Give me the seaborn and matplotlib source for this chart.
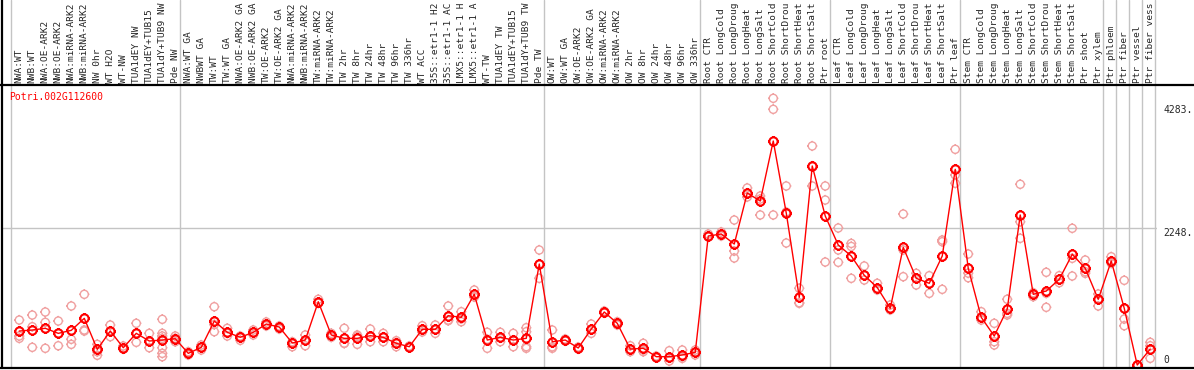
import numpy as np
import pandas as pd
import seaborn as sns
import matplotlib
matplotlib.use("Agg")
from matplotlib import pyplot as plt
from matplotlib.lines import Line2D
from matplotlib.path import Path

gene = "Potri.002G112600"

# sample groups: labels (cut to 14 chars as on the chart), means and replicates
nw_labels = ["NWA:WT", "NWB:WT", "NWA:OE-ARK2", "NWB:OE-ARK2", "NWA:miRNA-ARK2",
             "NWB:miRNA-ARK2", "NW 0hr", "WT H2O", "WT-NW", "TUA1dEY NW",
             "TUA1dEY+TUB15", "TUA1dY+TUB9 NW", "Pde NW"]
nw_means = [559, 576, 604, 521, 571, 768, 258, 559, 285, 521, 395, 411, 433]
nw_reps = [[740, 477, 439], [822, 630, 291], [872, 702, 275], [724, 521, 317],
           [971, 423, 340], [1163, 576, 559], [340, 219, 160], [658, 559, 466],
           [313, 280, 263], [686, 521, 373], [521, 395, 285],
           [752, 521, 477, 439, 285, 192, 137], [477, 439, 383]]

tw_labels = ["NWA:WT GA", "NWBWT GA", "TW:WT", "TW:WT GA", "NWA:OE-ARK2 GA",
             "NWB:OE-ARK2 GA", "TW:OE-ARK2", "TW:OE-ARK2 GA", "NWA:miRNA-ARK2",
             "NWB:miRNA-ARK2", "TW:miRNA-ARK2", "TW:miRNA-ARK2", "TW 2hr", "TW 8hr",
             "TW 24hr", "TW 48hr", "TW 96hr", "TW 336hr", "WT ACC", "35S::etr1-1 H2",
             "35S::etr1-1 AC", "LMX5::etr1-1 H", "LMX5::etr1-1 A", "WT-TW",
             "TUA1dEY TW", "TUA1dEY+TUB15", "TUA1dY+TUB9 TW", "Pde TW"]
tw_means = [192, 291, 724, 538, 456, 538, 674, 625, 362, 411, 1041, 494, 439, 439,
            482, 456, 357, 301, 587, 587, 811, 785, 1163, 411, 456, 411, 439, 1661]
tw_reps = [[219, 192, 165], [329, 291, 247], [959, 665, 548], [604, 521, 477],
           [477, 461, 406], [576, 538, 494], [708, 674, 642], [642, 625, 592],
           [383, 362, 301], [494, 411, 317], [1081, 1031, 1015], [521, 494, 456],
           [604, 357, 357], [494, 472, 340], [592, 472, 383], [521, 461, 383],
           [400, 367, 301], [313, 301, 291], [646, 576, 543], [658, 587, 521],
           [971, 740, 729], [877, 757, 712], [1234, 1124, 1119], [538, 423, 275],
           [538, 444, 383], [521, 411, 301], [614, 548, 301, 275], [1892, 1661, 1426]]

ow_labels = ["OW:WT", "OW:WT GA", "OW:OE-ARK2", "OW:OE-ARK2 GA", "OW:miRNA-ARK2",
             "OW:miRNA-ARK2", "OW 2hr", "OW 8hr", "OW 24hr", "OW 48hr", "OW 96hr",
             "OW 336hr"]
ow_means = [383, 411, 280, 592, 872, 686, 263, 275, 137, 137, 165, 209]
ow_reps = [[576, 298, 275], [428, 411, 395], [296, 280, 263], [674, 584, 521],
           [888, 872, 855], [712, 686, 658], [317, 255, 219], [357, 247, 219],
           [148, 137, 127], [235, 115, 66], [247, 137, 110], [247, 214, 165]]

root_labels = ["Root CTR", "Root LongCold", "Root LongDroug", "Root LongHeat",
               "Root LongSalt", "Root ShortCold", "Root ShortDrou", "Root ShortHeat",
               "Root ShortSalt", "Ptr root"]
root_means = [2122, 2155, 1990, 2829, 2698, 3685, 2500, 1114, 3274, 2451]
root_reps = [[2155, 2122, 2106], [2188, 2155, 2122], [2385, 1875, 1760],
             [2912, 2829, 2764], [2780, 2731, 2468], [4387, 4206, 2468],
             [2945, 2517, 2007], [1262, 1025, 1015], [3603, 3274, 2945],
             [2945, 2714, 1694]]

leaf_labels = ["Leaf CTR", "Leaf LongCold", "Leaf LongDroug", "Leaf LongHeat",
               "Leaf LongSalt", "Leaf ShortCold", "Leaf ShortDrou", "Leaf ShortHeat",
               "Leaf ShortSalt", "Ptr leaf"]
leaf_means = [1974, 1793, 1476, 1275, 933, 1936, 1426, 1344, 1793, 3219]
leaf_reps = [[2254, 1892, 1689], [2000, 1950, 1426], [1629, 1480, 1398],
             [1344, 1250, 1234], [987, 933, 905], [2484, 1892, 1453],
             [1508, 1426, 1316], [1469, 1344, 1179], [2056, 2028, 1245],
             [3548, 3126, 2989]]

stem_labels = ["Stem CTR", "Stem LongCold", "Stem LongDroug", "Stem LongHeat",
               "Stem LongSalt", "Stem ShortCold", "Stem ShortDrou", "Stem ShortHeat",
               "Stem ShortSalt", "Ptr shoot", "Ptr xylem"]
stem_means = [1591, 785, 477, 921, 2468, 1163, 1217, 1410, 1821, 1591, 1081]
stem_reps = [[1826, 1511, 1436], [877, 773, 740], [686, 383, 329], [1081, 850, 823],
             [2973, 2357, 2084], [1189, 1163, 1124], [1525, 1179, 949],
             [1469, 1410, 1354], [2249, 1755, 1464], [1727, 1535, 1508],
             [1168, 1086, 971]]

ptr_labels = ["Ptr phloem", "Ptr fiber", "Ptr vessel", "Ptr fiber vess"]
ptr_means = [1711, 933, 0, 263]
ptr_reps = [[1781, 1711, 1673], [1393, 757, 646], [0, 0, 0], [373, 317, 110]]

groups = [
    (nw_labels, nw_means, nw_reps),
    (tw_labels, tw_means, tw_reps),
    (ow_labels, ow_means, ow_reps),
    (root_labels, root_means, root_reps),
    (leaf_labels, leaf_means, leaf_reps),
    (stem_labels, stem_means, stem_reps),
] + [([l], [m], [r]) for l, m, r in zip(ptr_labels, ptr_means, ptr_reps)]

axis_ticks = [0, 2248, 4283]
axis_ticklabels = ["0", "2248.", "4283."]

# build long tables
labels, mean_rows, rep_rows, group_starts = [], [], [], []
for lab, mn, rp in groups:
    group_starts.append(len(labels))
    for l, m, r in zip(lab, mn, rp):
        pos = len(labels)
        labels.append(l)
        mean_rows.append(dict(pos=pos, value=m))
        for v in r:
            rep_rows.append(dict(pos=pos, value=v))
means_df = pd.DataFrame(mean_rows)
reps_df = pd.DataFrame(rep_rows)
n = len(labels)

# ring marker with four small ticks, like the pixel circles of the chart
k = 1.28
ticks = Path([[0, 1], [0, k], [0, -1], [0, -k], [1, 0], [k, 0], [-1, 0], [-k, 0]],
             [Path.MOVETO, Path.LINETO] * 4)
ring = Path.make_compound_path(Path.unit_circle(), ticks)

sns.set_style("white")
plt.rcParams["font.family"] = ["DejaVu Sans Mono", "DejaVu Sans"]

W, H = 1194, 370
fig = plt.figure(figsize=(W / 100, H / 100), dpi=100)
ax = fig.add_axes([2 / W, 2 / H, 1155 / W, 283 / H])

pink = "#f0a0a0"
red = "#ff0000"
sns.scatterplot(data=reps_df, x="pos", y="value", ax=ax, marker=ring, s=55,
                facecolor="none", edgecolor=pink, linewidth=1.0, zorder=3)
sns.lineplot(data=means_df, x="pos", y="value", ax=ax, color=red, lw=1,
             marker=ring, markersize=7.6, markerfacecolor="none",
             markeredgecolor=red, markeredgewidth=1.5, zorder=4)

ax.set_xlim(-1.33, 87.52)
ax.set_ylim(-49, 4606)

# grid line
ax.axhline(2248, color="#c4c4c4", lw=1, zorder=1)

# group separators through header
top_ext = 1 + 85 / 283
for s in group_starts + [n]:
    ax.axvline(s - 0.62, ymin=0, ymax=top_ext, color="#c4c4c4", lw=1,
               clip_on=False, zorder=1)
ax.axvline(-1.33, ymin=0, ymax=top_ext, color="black", lw=1.6, clip_on=False)

for sp in ["top", "right", "left", "bottom"]:
    ax.spines[sp].set_visible(False)

# header and bottom lines across the whole figure
fig.add_artist(Line2D([0, 1], [1 - 85 / H, 1 - 85 / H], color="black", lw=1.6))
fig.add_artist(Line2D([0, 1], [2 / H, 2 / H], color="black", lw=1.6))

# sample labels on top
ax.xaxis.tick_top()
ax.set_xticks(range(n))
ax.set_xticklabels(labels, rotation=90, fontsize=6.8, va="bottom", ha="center")
ax.tick_params(axis="x", length=0, pad=1.5)
ax.set_yticks([])
ax.set_xlabel("")
ax.set_ylabel("")

# value labels on the right
for v, t in zip(axis_ticks, axis_ticklabels):
    va = "bottom" if v == 0 else "top"
    ax.text(1.0055, v, t, transform=ax.get_yaxis_transform(), fontsize=7,
            va=va, ha="left", clip_on=False)

ax.text(7 / 1155, 1 - 12 / 283, gene, transform=ax.transAxes, color=red,
        fontsize=7, va="center", ha="left")

fig.savefig("out.png", dpi=100)
